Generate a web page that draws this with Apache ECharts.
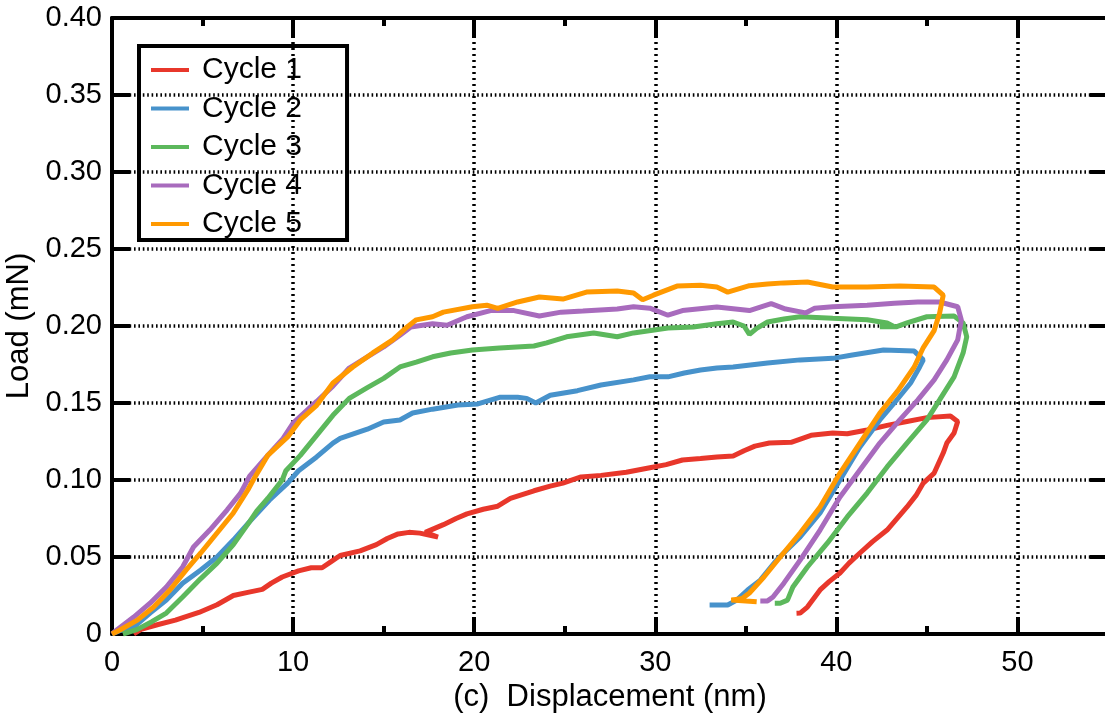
<!DOCTYPE html>
<html>
<head>
<meta charset="utf-8">
<script src="https://cdn.jsdelivr.net/npm/echarts@6/dist/echarts.min.js"></script>
<style>
html,body{margin:0;padding:0;background:#fff;}
#chart{width:1105px;height:715px;}
</style>
</head>
<body>
<div id="chart"></div>
<script>
// ---- data (displacement nm, load mN) ----
const seriesNames = ['Cycle 1', 'Cycle 2', 'Cycle 3', 'Cycle 4', 'Cycle 5'];
const seriesColors = ['#E8372B', '#4792CB', '#5CB85C', '#A86BBD', '#FF9900'];
const xTicks = [0, 10, 20, 30, 40, 50];
const yTicks = [0, 0.05, 0.10, 0.15, 0.20, 0.25, 0.30, 0.35, 0.40];

const cycle1 = [
  [1.2,0],[1.6,0.003],[2.5,0.006],[3.5,0.009],[4.8,0.014],[5.8,0.019],[6.7,0.025],[7.5,0.027],
  [8.3,0.029],[8.8,0.033],[9.4,0.037],[10.3,0.041],[11.0,0.043],[11.6,0.043],[12.1,0.047],[12.6,0.051],
  [13.7,0.054],[14.6,0.058],[15.2,0.062],[15.8,0.065],[16.4,0.066],[17.0,0.0655],[18.0,0.063],[17.3,0.066],
  [18.3,0.071],[19.0,0.075],[19.6,0.078],[20.5,0.081],[21.3,0.083],[22.0,0.088],[23.3,0.093],[24.2,0.096],
  [24.9,0.098],[25.9,0.102],[27.0,0.103],[28.4,0.105],[29.7,0.108],[30.6,0.110],[31.5,0.113],[32.5,0.114],
  [33.4,0.115],[34.3,0.1156],[34.9,0.119],[35.5,0.122],[36.3,0.124],[37.5,0.1245],[38.6,0.129],[39.8,0.1305],
  [40.6,0.130],[41.7,0.1325],[42.8,0.1355],[43.9,0.138],[45.0,0.1405],[46.3,0.1415],[46.7,0.138],
  [46.5,0.1305],[46.1,0.124],[45.9,0.1175],[45.4,0.1045],[44.8,0.098],[44.4,0.090],[43.9,0.0825],
  [42.8,0.0675],[42.0,0.060],[41.3,0.0526],[40.7,0.046],[40.2,0.0396],[39.6,0.034],[39.1,0.0286],
  [38.4,0.0175],[38.0,0.0136],[37.8,0.0135]
];
const cycle2 = [
  [0,0],[0.4,0.002],[1.2,0.0045],[2.1,0.0136],[3.0,0.022],[3.9,0.033],[4.9,0.0416],[5.8,0.050],
  [6.7,0.061],[7.6,0.073],[8.7,0.087],[9.7,0.098],[10.3,0.106],[11.3,0.115],[12.2,0.124],[12.6,0.127],
  [14.1,0.1330],[15.0,0.1377],[15.9,0.139],[16.6,0.1435],[17.7,0.1460],[19.1,0.1487],[20.2,0.1494],
  [21.4,0.1537],[22.4,0.1537],[22.9,0.153],[23.4,0.150],[24.2,0.155],[25.7,0.158],[27.0,0.1617],
  [28.8,0.165],[29.7,0.167],[30.7,0.167],[31.6,0.1695],[32.5,0.1714],[33.4,0.1727],[34.3,0.1734],
  [36.2,0.176],[38.0,0.178],[39.8,0.179],[40.8,0.181],[42.6,0.1844],[44.3,0.1837],[44.8,0.178],
  [44.6,0.1734],[44.1,0.163],[43.2,0.150],[42.4,0.139],[41.3,0.1215],[40.2,0.100],[39.1,0.0786],
  [38.0,0.063],[36.7,0.048],[35.8,0.035],[35.1,0.0286],[34.5,0.022],[34.0,0.0188],[33.0,0.0188]
];
const cycle3 = [
  [0.6,0],[1.4,0.003],[2.2,0.008],[3.0,0.0136],[3.9,0.024],[4.9,0.036],[5.8,0.046],[6.7,0.058],
  [7.6,0.073],[8.0,0.080],[8.6,0.088],[9.4,0.100],[9.6,0.106],[10.4,0.116],[11.3,0.129],[12.2,0.142],
  [13.1,0.153],[14.1,0.160],[15.0,0.166],[15.9,0.1734],[16.8,0.1766],[17.7,0.180],[18.7,0.1825],
  [19.9,0.1844],[21.4,0.1857],[23.3,0.187],[24.0,0.189],[25.1,0.193],[26.6,0.1955],[27.9,0.193],
  [28.8,0.1955],[30.7,0.1987],[32.1,0.1994],[33.4,0.2015],[34.3,0.2026],[34.9,0.200],[35.2,0.1945],
  [35.6,0.1985],[36.2,0.2026],[37.1,0.2045],[38.0,0.206],[39.8,0.205],[41.7,0.204],[42.8,0.202],
  [43.2,0.1995],[42.4,0.1995],[43.3,0.1995],[43.9,0.202],[45.0,0.206],[46.5,0.2065],[47.0,0.202],
  [47.2,0.193],[47.0,0.1825],[46.5,0.167],[45.7,0.152],[45.0,0.139],[43.9,0.124],[42.8,0.1085],
  [41.7,0.0915],[40.6,0.076],[39.5,0.059],[38.4,0.0435],[37.6,0.0305],[37.3,0.022],[36.9,0.020],[36.6,0.020]
];
const cycle4 = [
  [0,0],[0.3,0.003],[1.2,0.011],[2.1,0.020],[3.0,0.0305],[3.9,0.0435],[4.5,0.0565],[5.4,0.0675],
  [6.35,0.0805],[7.1,0.0915],[7.6,0.1025],[8.6,0.116],[9.45,0.127],[10.0,0.137],[11.3,0.151],
  [12.2,0.161],[13.1,0.1727],[14.1,0.180],[15.0,0.1864],[15.9,0.194],[16.5,0.1994],[17.7,0.2015],
  [18.5,0.2005],[19.6,0.206],[20.9,0.210],[22.2,0.210],[23.6,0.2065],[24.8,0.209],[26.0,0.2097],
  [27.9,0.211],[28.8,0.2125],[29.7,0.2116],[30.7,0.207],[31.5,0.210],[33.4,0.2123],[35.2,0.210],
  [36.4,0.2145],[37.2,0.211],[38.3,0.2085],[38.8,0.2115],[39.8,0.2125],[41.7,0.2135],[43.2,0.2147],
  [44.5,0.2156],[45.7,0.2156],[46.7,0.2125],[46.9,0.204],[46.7,0.191],[46.1,0.178],[45.4,0.165],
  [44.5,0.152],[43.5,0.139],[42.4,0.124],[41.3,0.1065],[40.2,0.089],[39.1,0.0675],[38.0,0.048],
  [37.1,0.033],[36.5,0.024],[36.2,0.0215],[35.8,0.0215]
];
const cycle5 = [
  [0,0],[0.44,0.0026],[1.4,0.009],[2.3,0.0175],[3.2,0.0286],[4.1,0.0416],[4.9,0.0526],[5.8,0.0656],
  [6.7,0.0786],[7.5,0.0935],[7.8,0.100],[8.6,0.116],[9.7,0.128],[10.4,0.139],[11.3,0.1485],[12.2,0.163],
  [13.3,0.1734],[14.4,0.1825],[15.5,0.191],[16.3,0.1994],[16.8,0.204],[17.7,0.206],[18.3,0.209],
  [19.9,0.2125],[20.7,0.2135],[21.3,0.2115],[22.4,0.2156],[23.6,0.2188],[24.9,0.2175],[26.2,0.222],
  [27.9,0.2227],[28.8,0.2214],[29.3,0.217],[29.9,0.220],[31.2,0.2259],[32.5,0.2265],[33.4,0.2253],
  [34.0,0.222],[35.2,0.2262],[36.2,0.2273],[37.1,0.228],[38.4,0.2286],[39.8,0.2253],[41.7,0.2253],
  [43.5,0.226],[45.4,0.2253],[45.9,0.220],[45.7,0.2083],[45.4,0.197],[44.8,0.186],[44.3,0.1734],
  [43.4,0.158],[42.4,0.1435],[41.3,0.124],[40.2,0.1045],[39.1,0.0825],[38.0,0.0655],[36.9,0.050],
  [36.0,0.037],[35.2,0.0266],[34.8,0.023],[34.2,0.022],[35.0,0.0215],[35.6,0.021]
];
const cycles = [cycle1, cycle2, cycle3, cycle4, cycle5];

// ---- chart ----
const FONT = "'Liberation Sans', Arial, Helvetica, sans-serif";
const chart = echarts.init(document.getElementById('chart'), null, {renderer: 'canvas'});
const vGridLine = {show: true, lineStyle: {color: '#000', width: 3.5, type: [2, 4]}};
const hGridLine = {show: true, lineStyle: {color: '#000', width: 3.5, type: [1.6, 2.8]}};
const xMin = xTicks[0], xMax = 55, xStep = xTicks[1] - xTicks[0];
const yMin = yTicks[0], yMax = yTicks[yTicks.length - 1], yStep = yTicks[1] - yTicks[0];

function xAxisDef(pos, step, tickLen, labels, line, split) {
  return {
    type: 'value', position: pos, min: xMin, max: xMax, interval: step,
    axisLine: {show: line, onZero: false, lineStyle: {color: '#000', width: 4}},
    axisTick: {show: true, inside: true, length: tickLen, lineStyle: {color: '#000', width: 4}},
    axisLabel: labels ? {
      show: true, color: '#000', fontSize: 29, fontFamily: FONT, margin: 14,
      formatter: v => (xTicks.indexOf(v) >= 0 ? String(v) : '')
    } : {show: false},
    splitLine: split ? vGridLine : {show: false}
  };
}

chart.setOption({
  animation: false,
  backgroundColor: '#fff',
  grid: {left: 112, right: -3, top: 18, bottom: 81, containLabel: false, outerBoundsMode: 'none'},
  legend: {
    orient: 'vertical', left: 139, top: 46,
    padding: [9, 45, 1, 12],
    borderColor: '#000', borderWidth: 4, backgroundColor: 'transparent',
    icon: 'rect', itemWidth: 38, itemHeight: 4, itemGap: 8.5,
    textStyle: {color: '#000', fontSize: 30, fontFamily: FONT, lineHeight: 30, padding: [0, 0, 0, 8]},
    data: seriesNames
  },
  xAxis: [
    Object.assign(xAxisDef('bottom', xStep, 17, true, true, true), {
      name: '(c)  Displacement (nm)', nameLocation: 'middle', nameGap: 40,
      nameTextStyle: {color: '#000', fontSize: 31, fontFamily: FONT}
    }),
    xAxisDef('bottom', xStep / 2, 8, false, false, false),
    xAxisDef('top', xStep, 20, false, true, false),
    xAxisDef('top', xStep / 2, 8, false, false, false)
  ],
  yAxis: [
    {
      type: 'value', position: 'left', min: yMin, max: yMax, interval: yStep,
      name: 'Load (mN)', nameLocation: 'middle', nameGap: 64, nameRotate: 90,
      nameTextStyle: {color: '#000', fontSize: 31, fontFamily: FONT},
      axisLine: {show: true, onZero: false, lineStyle: {color: '#000', width: 4}},
      axisTick: {show: true, inside: true, length: 18, lineStyle: {color: '#000', width: 4}},
      axisLabel: {
        color: '#000', fontSize: 29, fontFamily: FONT, margin: 10,
        formatter: v => (Math.abs(v) < 1e-9 ? '0' : v.toFixed(2))
      },
      splitLine: hGridLine
    },
    {
      type: 'value', position: 'right', min: yMin, max: yMax, interval: yStep,
      axisLine: {show: true, onZero: false, lineStyle: {color: '#000', width: 4}},
      axisTick: {show: true, inside: true, length: 18, lineStyle: {color: '#000', width: 4}},
      axisLabel: {show: false},
      splitLine: {show: false}
    }
  ],
  series: cycles.map((d, i) => ({
    name: seriesNames[i], type: 'line', data: d,
    xAxisIndex: 0, yAxisIndex: 0,
    showSymbol: false, symbol: 'none', smooth: false,
    color: seriesColors[i],
    lineStyle: {color: seriesColors[i], width: 5},
    z: 3 + i
  }))
});
</script>
</body>
</html>
